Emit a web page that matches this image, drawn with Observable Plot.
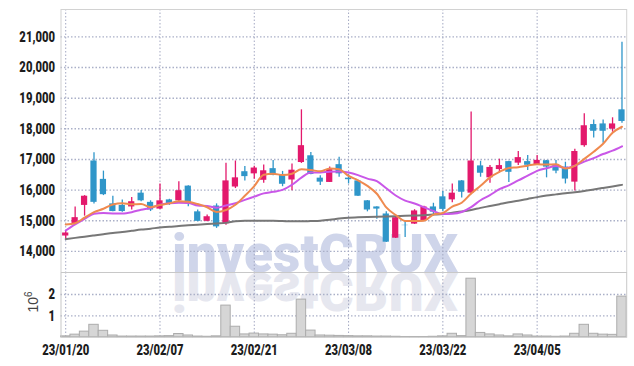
<!DOCTYPE html>
<html><head><meta charset="utf-8">
<script src="https://cdn.jsdelivr.net/npm/d3@7"></script>
<script src="https://cdn.jsdelivr.net/npm/@observablehq/plot@0.6"></script>
<style>
body{margin:0;background:#fff;}
#wrap{position:relative;width:634px;height:366px;overflow:hidden;}
#wrap > svg{position:absolute;left:0;}
</style></head><body><div id="wrap"></div>
<script>
const dates = ["23/01/20","23/01/25","23/01/26","23/01/27","23/01/30","23/01/31","23/02/01","23/02/02","23/02/03","23/02/06",
"23/02/07","23/02/08","23/02/09","23/02/10","23/02/13","23/02/14","23/02/15","23/02/16","23/02/17","23/02/20",
"23/02/21","23/02/22","23/02/23","23/02/24","23/02/27","23/02/28","23/03/02","23/03/03","23/03/06","23/03/07",
"23/03/08","23/03/09","23/03/10","23/03/13","23/03/14","23/03/15","23/03/16","23/03/17","23/03/20","23/03/21",
"23/03/22","23/03/23","23/03/24","23/03/27","23/03/28","23/03/29","23/03/30","23/03/31","23/04/03","23/04/04",
"23/04/05","23/04/06","23/04/07","23/04/10","23/04/11","23/04/12","23/04/13","23/04/14","23/04/17","23/04/18"];
const opens = [14500,14900,15500,16950,16350,15550,15500,15450,15900,15600,
15380,15680,15650,16130,15290,14980,15480,14900,16100,16600,
16530,16320,16700,16510,16330,16900,17120,16390,16250,16830,
16390,16300,15650,15450,15220,14430,14850,14890,15000,15450,
15780,15680,16300,15900,16790,16400,16670,16930,16880,16930,
16820,16960,16800,16750,16260,17450,18140,18160,17990,18620];
const highs = [14650,15450,15820,17220,16620,15800,15680,15760,15990,15650,
16200,15700,16270,16140,15350,15190,15550,16880,16950,16770,
16780,16820,16970,16610,16850,18620,17230,16470,16750,17070,
16500,16320,15660,15460,15290,15160,14980,15360,15470,15570,
15950,16200,16310,18550,16940,16800,17010,16940,17260,17130,
17130,16970,16970,16910,17330,18490,18290,18290,18360,20830];
const lows = [14400,14850,15150,15550,15820,15290,15280,15350,15620,15300,
15370,15500,15620,15460,14970,14970,14750,14850,16050,16300,
16350,16220,16470,16110,15980,16870,16500,16150,16250,16420,
16200,15790,15290,15050,14290,14420,14450,14880,14990,15160,
15290,15590,15740,15850,16420,16220,16560,16250,16800,16640,
16800,16400,16530,16200,15970,17400,17700,17530,17890,18180];
const closes = [14600,15100,15800,15600,15850,15300,15300,15620,15650,15350,
15650,15560,15980,15550,14980,15130,14800,16300,16400,16440,
16720,16630,16480,16190,16650,17450,16510,16260,16670,16530,
16340,15800,15350,15380,14300,15100,14840,15320,15450,15280,
15370,15900,15930,16950,16550,16740,16800,16580,17060,16810,
16970,16750,16620,16360,17260,18100,17920,17920,18160,18240];
// volume, millions of shares
const volumes = [0.04,0.12,0.26,0.58,0.30,0.08,0.03,0.03,0.03,0.03,
0.04,0.05,0.15,0.08,0.03,0.02,0.04,1.48,0.49,0.13,
0.17,0.13,0.12,0.09,0.16,1.76,0.31,0.08,0.07,0.06,
0.05,0.04,0.04,0.03,0.03,0.02,0.01,0.01,0.01,0.02,
0.04,0.16,0.05,2.74,0.20,0.13,0.08,0.04,0.13,0.08,
0.03,0.03,0.02,0.03,0.16,0.58,0.16,0.12,0.11,1.90];
const ma5 = [14880,14920,15100,15280,15390,15530,15570,15534,15544,15444,
15514,15566,15638,15618,15544,15440,15288,15352,15522,15814,
16132,16498,16534,16492,16534,16680,16656,16612,16708,16684,
16462,16320,16138,15880,15434,15186,14994,14988,15002,15198,
15252,15464,15586,15886,16140,16414,16594,16724,16746,16798,
16844,16834,16842,16702,16792,17018,17252,17512,17872,18068];
const ma10 = [14680,14880,15060,15230,15250,15240,15240,15280,15360,15417,
15522,15568,15586,15581,15494,15477,15427,15495,15570,15679,
15786,15893,15943,16007,16174,16406,16577,16573,16600,16609,
16571,16488,16375,16294,16059,15824,15657,15563,15441,15316,
15219,15229,15287,15444,15669,15833,16029,16155,16316,16469,
16629,16714,16783,16724,16795,16931,17043,17177,17287,17430];
const ma60 = [14400,14440,14480,14520,14560,14600,14630,14670,14710,14740,
14780,14800,14830,14850,14870,14890,14910,14930,14980,15000,
15000,15000,15000,14990,14980,14980,14990,15000,15030,15070,
15100,15110,15120,15130,15140,15150,15160,15170,15180,15200,
15220,15260,15300,15350,15420,15480,15540,15600,15650,15710,
15770,15820,15860,15900,15930,15970,16020,16070,16120,16170];
const labelDates = ["23/01/20","23/02/07","23/02/21","23/03/08","23/03/22","23/04/05"];
const priceTicks = [14000,15000,16000,17000,18000,19000,20000,21000];
const volumeTicks = [1,2];

const rows = dates.map((d,i)=>({date:d, open:opens[i], high:highs[i], low:lows[i], close:closes[i],
  volume:volumes[i], ma5:ma5[i], ma10:ma10[i], ma60:ma60[i]}));

const UP = "#e3196c", DOWN = "#2f96c9";
const candleColor = d => d.close >= d.open ? UP : DOWN;
const grid = {stroke:"#a3a8c2", strokeDasharray:"1.5,2", strokeWidth:1};
const hgrid = {stroke:"#aab0c8", strokeDasharray:"1.5,2", strokeWidth:1.4};
const FONT = "Roboto, 'Liberation Sans', sans-serif";
const ML = 60.5, MR = 7.8;

const wrap = document.getElementById("wrap");

// watermark (behind the plots)
const wm = d3.create("svg").attr("width",634).attr("height",366).style("top","0px");
wm.append("text").attr("x",172).attr("y",271.5).attr("font-family","Roboto, 'Open Sans', sans-serif")
  .attr("font-weight",900).attr("font-size",54).attr("fill","#cfd5ea")
  .attr("textLength",286).attr("lengthAdjust","spacingAndGlyphs").text("investCRUX");
wm.append("g").attr("transform","translate(0,544.5) scale(1,-1)")
  .append("text").attr("x",172).attr("y",271.5).attr("font-family","Roboto, 'Open Sans', sans-serif")
  .attr("font-weight",900).attr("font-size",54).attr("fill","#e6e7ef")
  .attr("textLength",286).attr("lengthAdjust","spacingAndGlyphs").text("investCRUX");
wrap.appendChild(wm.node());

const price = Plot.plot({
  width:634, height:272, marginTop:9, marginBottom:0, marginLeft:ML, marginRight:MR,
  style:{background:"transparent", fontFamily:FONT, fontSize:"15px", fontWeight:"900", color:"#1c1c1c"},
  x:{type:"band", domain:dates, padding:0, round:false, axis:null},
  y:{domain:[13310,21895], ticks:priceTicks, tickFormat:d3.format(","), tickSize:0, tickPadding:6, label:null},
  marks:[
    Plot.ruleY(priceTicks, hgrid),
    Plot.ruleX(labelDates, grid),
    Plot.ruleX(rows, {x:"date", y1:"low", y2:"high", stroke:candleColor, strokeWidth:1.3}),
    Plot.barY(rows, {x:"date", y1:"open", y2:"close", fill:candleColor, insetLeft:1.6, insetRight:1.6}),
    Plot.line(rows, {x:"date", y:"ma60", stroke:"#777777", strokeWidth:2, curve:"monotone-x"}),
    Plot.line(rows, {x:"date", y:"ma10", stroke:"#c957e8", strokeWidth:2, curve:"monotone-x"}),
    Plot.line(rows, {x:"date", y:"ma5", stroke:"#ef8a4f", strokeWidth:2, curve:"monotone-x"}),
    Plot.frame({stroke:"#d2d2d2"})
  ]
});
price.style.top = "0px";
wrap.appendChild(price);

function expLabel() {
  const g = d3.create("svg:g").attr("class","nocondense").attr("transform","translate(38,30) rotate(-90)");
  const t = g.append("text").attr("text-anchor","middle").attr("font-family","'Liberation Sans', sans-serif")
    .attr("font-size",14).attr("fill","#444").style("font-weight","normal");
  t.append("tspan").text("10");
  t.append("tspan").attr("dy",-6).attr("font-size",10).text("6");
  return g.node();
}

const volume = Plot.plot({
  width:634, height:94, marginTop:0, marginBottom:29.3, marginLeft:ML, marginRight:MR,
  style:{background:"transparent", fontFamily:FONT, fontSize:"15px", fontWeight:"900", color:"#1c1c1c"},
  x:{type:"band", domain:dates, padding:0, round:false, ticks:labelDates, tickSize:0, tickPadding:7, label:null},
  y:{domain:[0,3.03], ticks:volumeTicks, tickFormat:d3.format("d"), tickSize:0, tickPadding:6, label:null},
  marks:[
    Plot.ruleY(volumeTicks, hgrid),
    Plot.ruleX(labelDates, grid),
    Plot.barY(rows, {x:"date", y:"volume", fill:"#d6d6d6", stroke:"#acacac", strokeWidth:1}),
    Plot.frame({stroke:"#c8c8c8"}),
    expLabel
  ]
});
volume.style.top = "272px";
wrap.appendChild(volume);

// condensed look for the axis labels
function condense(svg, factor) {
  svg.querySelectorAll("text").forEach(t => {
    if (t.closest(".nocondense")) return;
    const w = t.getComputedTextLength();
    if (w > 0) {
      t.setAttribute("textLength", (w * factor).toFixed(2));
      t.setAttribute("lengthAdjust", "spacingAndGlyphs");
    }
  });
}
condense(price, 0.75);
condense(volume, 0.75);
</script></body></html>
